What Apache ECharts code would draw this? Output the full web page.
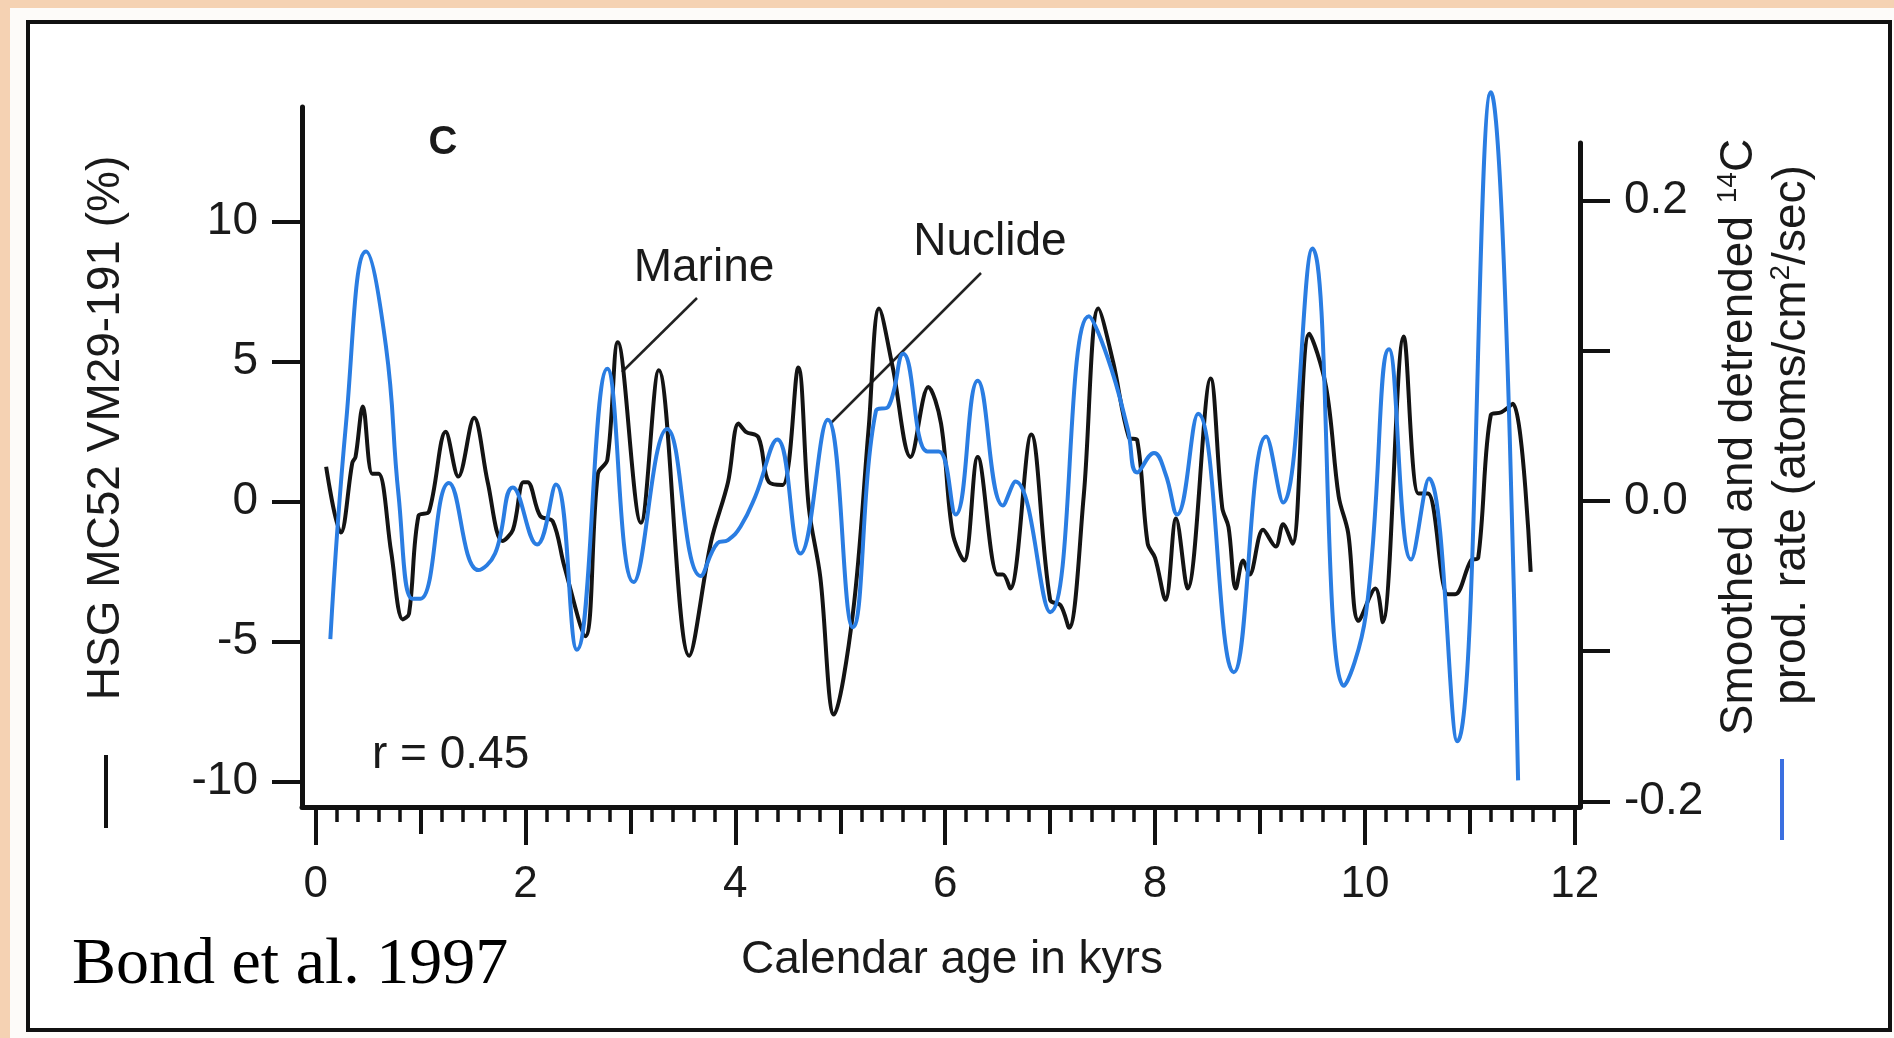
<!DOCTYPE html>
<html style="height: 100%">
<head>
<meta charset="utf-8">
<style>
  html, body { margin: 0; height: 100%; background: #f5d2b3; overflow: hidden; }
  #sheet { position: absolute; left: 10px; top: 8px; right: 0; bottom: 0; background: #fdfbf9; }
  #frame { position: absolute; left: 26px; top: 20px; width: 1858px; height: 1004px; border: 4px solid #111; background: #fff; }
  #container { position: absolute; left: 0; top: 0; width: 1894px; height: 1038px; }
</style>
</head>
<body>
<div id="sheet"></div>
<div id="frame"></div>
<div id="container"></div>
<script src="https://cdn.jsdelivr.net/npm/echarts@6/dist/echarts.min.js"></script>
<script>
// Marine record (HSG MC52 VM29-191, %), left axis
var ageMarine = [0.10,0.24,0.35,0.38,0.45,0.54,0.60,0.72,0.83,0.89,0.98,1.08,1.24,1.36,1.51,1.64,1.78,1.88,1.98,2.02,
  2.14,2.26,2.37,2.57,2.69,2.78,2.88,3.10,3.27,3.56,3.77,3.93,4.03,4.10,4.22,4.32,4.45,4.60,4.70,4.81,
  4.94,5.12,5.27,5.37,5.50,5.67,5.84,5.96,6.07,6.18,6.31,6.50,6.55,6.62,6.82,7.00,7.10,7.18,7.32,7.46,
  7.60,7.75,7.83,7.93,8.00,8.10,8.20,8.31,8.53,8.64,8.70,8.77,8.84,8.90,9.03,9.15,9.22,9.31,9.47,9.63,
  9.75,9.84,9.94,10.10,10.17,10.37,10.51,10.60,10.79,10.86,11.01,11.08,11.20,11.30,11.41,11.58];
var marine = [1.25,-1.1,1.4,1.6,3.4,1.0,1.0,-1.8,-4.2,-4.0,-0.5,-0.35,2.5,0.9,3.0,0.7,-1.4,-1.0,0.7,0.7,
  -0.5,-0.7,-2.3,-4.8,1.0,1.5,5.7,-0.75,4.7,-5.5,-1.4,0.7,2.8,2.5,2.3,0.7,0.6,4.8,-0.2,-2.7,
  -7.6,-4.0,2.6,6.9,4.8,1.6,4.1,2.8,-1.1,-2.1,1.6,-2.6,-2.6,-3.1,2.4,-3.5,-3.7,-4.5,0.2,6.9,
  5.0,2.3,2.2,-1.5,-2.0,-3.5,-0.6,-3.1,4.4,-0.2,-0.9,-3.1,-2.1,-2.6,-1.0,-1.6,-0.8,-1.5,6.0,4.1,
  0.2,-1.1,-4.25,-3.1,-4.3,5.9,0.3,0.3,-3.3,-3.3,-2.1,-2.0,3.1,3.2,3.5,-2.5];

// Nuclide record (14C prod. rate, atoms/cm2/sec), right axis
var ageNuclide = [0.14,0.29,0.48,0.67,0.79,0.92,1.00,1.27,1.55,1.71,1.88,2.11,2.29,2.49,2.78,3.03,3.35,3.67,3.83,3.93,
  4.05,4.19,4.40,4.62,4.88,5.12,5.34,5.46,5.60,5.83,5.94,6.10,6.31,6.55,6.67,7.00,7.37,7.55,7.74,7.83,
  7.99,8.10,8.21,8.41,8.75,9.06,9.22,9.50,9.80,10.01,10.23,10.44,10.61,10.88,11.20,11.46];
var nuclide = [-0.092,0.052,0.166,0.103,0.004,-0.065,-0.065,0.012,-0.046,-0.035,0.009,-0.029,0.011,-0.099,0.088,-0.054,0.048,-0.050,-0.028,-0.026,
  -0.017,0.003,0.041,-0.035,0.054,-0.084,0.060,0.063,0.098,0.033,0.033,-0.009,0.080,-0.003,0.013,-0.074,0.123,0.095,0.048,0.019,
  0.032,0.018,-0.009,0.058,-0.114,0.043,-0.001,0.168,-0.123,-0.075,0.101,-0.039,0.015,-0.160,0.272,-0.186];

// ticks
var xMajor = [0, 2, 4, 6, 8, 10, 12];
var xMedium = [1, 3, 5, 7, 9, 11];
var leftTicks = [-10, -5, 0, 5, 10];
var rightTicks = [-0.2, -0.1, 0, 0.1, 0.2];
var rightLabels = [-0.2, 0, 0.2];

var xMinor = [];
for (var i = 1; i < 60; i++) {
  if (i % 5 !== 0) xMinor.push(Math.round(i * 2) / 10);
}

function pairs(xs, ys) {
  var res = [];
  for (var i = 0; i < xs.length; i++) res.push([xs[i], ys[i]]);
  return res;
}

var FONT = 'Liberation Sans';
var INK = '#1a1a1a';
var X_MIN = -0.13, X_MAX = 12.05;

var myChart = echarts.init(document.getElementById('container'));
var option = {
  backgroundColor: 'transparent',
  animation: false,
  grid: [
    { left: 302, right: 314, top: 107, bottom: 231 },
    { left: 302, right: 314, top: 143, bottom: 231 }
  ],
  xAxis: [
    {
      type: 'value', gridIndex: 0, position: 'bottom', min: X_MIN, max: X_MAX,
      axisLine: { onZero: false, lineStyle: { color: '#111', width: 5 } },
      axisTick: { customValues: xMajor, length: 38, lineStyle: { color: '#111', width: 4 } },
      axisLabel: { customValues: xMajor, margin: 56, fontSize: 44, fontFamily: FONT, color: INK },
      splitLine: { show: false }
    },
    {
      type: 'value', gridIndex: 1, position: 'bottom', min: X_MIN, max: X_MAX,
      axisLine: { show: false, onZero: false },
      axisTick: { customValues: xMedium, length: 27, lineStyle: { color: '#111', width: 4 } },
      axisLabel: { show: false },
      splitLine: { show: false }
    },
    {
      type: 'value', gridIndex: 0, position: 'bottom', min: X_MIN, max: X_MAX,
      axisLine: { show: false, onZero: false },
      axisTick: { customValues: xMinor, length: 15, lineStyle: { color: '#111', width: 3.5 } },
      axisLabel: { show: false },
      splitLine: { show: false }
    }
  ],
  yAxis: [
    {
      type: 'value', gridIndex: 0, position: 'left', min: -10.9, max: 14.1,
      axisLine: { show: true, onZero: false, lineStyle: { color: '#111', width: 5 } },
      axisTick: { show: true, customValues: leftTicks, length: 30, lineStyle: { color: '#111', width: 4 } },
      axisLabel: { customValues: leftTicks, margin: 44, fontSize: 46, fontFamily: FONT, color: INK },
      splitLine: { show: false }
    },
    {
      type: 'value', gridIndex: 1, position: 'right', min: -0.2037, max: 0.2383,
      axisLine: { show: true, onZero: false, lineStyle: { color: '#111', width: 5 } },
      axisTick: { show: true, customValues: rightTicks, length: 30, lineStyle: { color: '#111', width: 4 } },
      axisLabel: {
        customValues: rightLabels, margin: 44, fontSize: 46, fontFamily: FONT, color: INK,
        formatter: function (v) { return v.toFixed(1); }
      },
      splitLine: { show: false }
    }
  ],
  series: [
    {
      name: 'Marine', type: 'line', xAxisIndex: 0, yAxisIndex: 0,
      data: pairs(ageMarine, marine),
      showSymbol: false, smooth: 0.35, clip: false, z: 3,
      lineStyle: { color: '#141414', width: 4 }
    },
    {
      name: 'Nuclide', type: 'line', xAxisIndex: 1, yAxisIndex: 1,
      data: pairs(ageNuclide, nuclide),
      showSymbol: false, smooth: 0.45, clip: false, z: 4,
      lineStyle: { color: '#2a7de2', width: 4 }
    }
  ],
  graphic: [
    { type: 'text', x: 443, y: 143, style: { text: 'C', font: 'bold 40px ' + FONT, fill: INK, textAlign: 'center', textVerticalAlign: 'middle' } },
    { type: 'text', x: 704, y: 268, style: { text: 'Marine', font: '46px ' + FONT, fill: INK, textAlign: 'center', textVerticalAlign: 'middle' } },
    { type: 'line', shape: { x1: 697, y1: 298, x2: 622, y2: 372 }, style: { stroke: '#222', lineWidth: 2.5 } },
    { type: 'text', x: 990, y: 242, style: { text: 'Nuclide', font: '46px ' + FONT, fill: INK, textAlign: 'center', textVerticalAlign: 'middle' } },
    { type: 'line', shape: { x1: 981, y1: 273, x2: 831, y2: 423 }, style: { stroke: '#222', lineWidth: 2.5 } },
    { type: 'text', x: 372, y: 755, style: { text: 'r = 0.45', font: '46px ' + FONT, fill: INK, textAlign: 'left', textVerticalAlign: 'middle' } },
    { type: 'text', x: 952, y: 960, style: { text: 'Calendar age in kyrs', font: '46px ' + FONT, fill: INK, textAlign: 'center', textVerticalAlign: 'middle' } },
    { type: 'text', x: 72, y: 966, style: { text: 'Bond et al. 1997', font: '66px Liberation Serif', fill: '#000', textAlign: 'left', textVerticalAlign: 'middle' } },
    // left axis title + black swatch
    { type: 'text', x: 106, y: 428, rotation: Math.PI / 2, style: { text: 'HSG MC52 VM29-191 (%)', font: '46px ' + FONT, fill: INK, textAlign: 'center', textVerticalAlign: 'middle' } },
    { type: 'line', shape: { x1: 106, y1: 755, x2: 106, y2: 828 }, style: { stroke: '#111', lineWidth: 4 } },
    // right axis title + blue swatch
    {
      type: 'text', x: 1739, y: 437, rotation: Math.PI / 2,
      style: {
        text: '{n|Smoothed and detrended }{s|14}{n|C}',
        rich: {
          n: { fontSize: 46, fontFamily: FONT, fill: INK, lineHeight: 50 },
          s: { fontSize: 28, fontFamily: FONT, fill: INK, lineHeight: 50, verticalAlign: 'top' }
        },
        textAlign: 'center', textVerticalAlign: 'middle'
      }
    },
    {
      type: 'text', x: 1792, y: 435, rotation: Math.PI / 2,
      style: {
        text: '{n|prod. rate (atoms/cm}{s|2}{n|/sec)}',
        rich: {
          n: { fontSize: 46, fontFamily: FONT, fill: INK, lineHeight: 50 },
          s: { fontSize: 28, fontFamily: FONT, fill: INK, lineHeight: 50, verticalAlign: 'top' }
        },
        textAlign: 'center', textVerticalAlign: 'middle'
      }
    },
    { type: 'line', shape: { x1: 1782, y1: 759, x2: 1782, y2: 840 }, style: { stroke: '#3b6fe0', lineWidth: 4 } }
  ]
};
myChart.setOption(option);
</script>
</body>
</html>
